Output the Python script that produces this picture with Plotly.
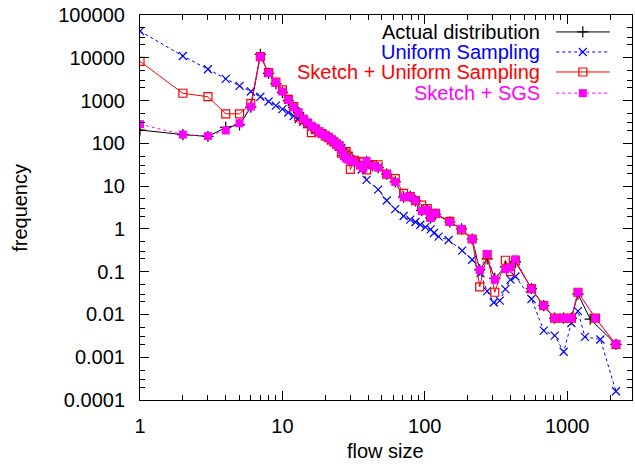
import plotly.graph_objects as go

# ---------------- data ----------------
x_main = [1, 2, 3, 4, 5, 6, 7, 8, 9, 10, 11, 12, 13, 14, 15, 16, 17, 18, 19, 20,
          21, 22, 23, 24, 25, 26, 27, 28, 29, 30, 32, 35, 37, 39, 43, 47,
          54, 62, 71, 79, 86, 95, 104, 110, 119, 150, 181, 215,
          243, 274, 310, 368, 400, 433, 561, 684, 817, 944, 1070, 1190, 1580, 2200]

x_actual = [1, 2, 3, 4, 5, 6, 7, 8, 9, 10, 11, 12, 13, 14, 15, 16, 17, 18, 19, 20,
            21, 22, 23, 24, 25, 26, 27, 28, 29, 30, 32, 35, 37, 39, 43, 47,
            54, 62, 71, 79, 86, 95, 104, 110, 119, 150, 181, 215,
            243, 274, 310, 368, 400, 433, 561, 684, 817, 944, 1070, 1190, 1450, 2200]

actual = [205, 160, 145, 235, 270, 700, 12000, 4300, 2500, 1550,
          1000, 680, 520, 370, 300, 250, 220, 185, 160, 148,
          135, 122, 110, 96, 86, 70, 52, 46, 43, 40,
          37, 31, 27, 38, 30, 27,
          19, 12.5, 5.5, 5.8, 4.5, 2.7,
          2.8, 1.8, 2.2, 1.45, 1.0, 0.58,
          0.11, 0.2, 0.07, 0.13, 0.13, 0.17,
          0.04, 0.016, 0.0082, 0.0082, 0.0082, 0.03, 0.0078, 0.002]

sketch_uniform = [8200, 1480, 1230, 490, 490, 850, 10600, 4500, 2700, 1780,
                  1070, 720, 420, 360, 290, 178, 210, 185, 170, 150,
                  138, 120, 108, 96, 85, 59, 62, 64, 50, 24.5,
                  40, 37, 37, 24, 32, 31.6,
                  19, 15, 6.8, 5.7, 4.6, 3.6,
                  3.0, 1.9, 2.3, 1.5, 0.95, 0.58,
                  0.044, 0.25, 0.033, 0.185, 0.1, 0.18,
                  0.04, 0.016, 0.0082, 0.0082, 0.0082, 0.033, 0.0082, 0.002]

sketch_sgs = [280, 160, 148, 200, 295, 720, 10600, 4400, 2650, 1620,
              1030, 700, 535, 380, 310, 260, 230, 190, 165, 150,
              140, 125, 112, 95, 87, 70, 50, 44, 42, 40,
              37, 30, 26, 39, 30, 27,
              19, 12.5, 5.5, 5.7, 4.6, 2.6,
              2.8, 1.8, 2.3, 1.45, 1.0, 0.58,
              0.11, 0.26, 0.065, 0.115, 0.127, 0.195,
              0.04, 0.016, 0.0082, 0.0082, 0.0082, 0.033, 0.0082, 0.002]

x_uniform = [1, 2, 3, 4, 5, 6, 7, 8, 9, 10, 11, 12, 13, 14, 15, 16, 17, 18, 19, 20,
             21, 22, 23, 24, 25, 26, 27, 28, 29, 30, 32, 36, 39, 47, 54, 62, 71, 79,
             86, 93, 101, 110, 116, 125, 147, 183, 215, 246, 274, 305, 336, 368,
             400, 433, 561, 684, 817, 944, 1070, 1190, 1330, 1710, 2200]

uniform = [42000, 11000, 5400, 3200, 2200, 1630, 1230, 950, 760, 630,
           525, 435, 370, 320, 280, 240, 210, 185, 165, 148,
           132, 118, 108, 98, 90, 78, 66, 57, 50, 44,
           37, 24.5, 14, 8.3, 4.6, 2.9, 2.0, 1.65,
           1.45, 1.25, 1.1, 0.97, 0.8, 0.66, 0.55, 0.31, 0.19, 0.093, 0.035, 0.019, 0.021, 0.039,
           0.065, 0.077, 0.023, 0.0042, 0.0032, 0.00134, 0.0063, 0.012, 0.003, 0.0026, 0.00016]

y_tickvals = [1e-4, 1e-3, 1e-2, 1e-1, 1, 10, 100, 1000, 10000, 100000]
y_ticktext = ["0.0001", "0.001", "0.01", "0.1", "1", "10", "100", "1000", "10000", "100000"]
x_tickvals = [1, 10, 100, 1000]
x_ticktext = ["1", "10", "100", "1000"]

series_names = ["Actual distribution", "Uniform Sampling",
                "Sketch + Uniform Sampling", "Sketch + SGS"]
x_title = "flow size"
y_title = "frequency"

# ---------------- styles ----------------
FONT = "Liberation Sans, Arial, Helvetica, sans-serif"
styles = [
    dict(color="#000000", dash="solid", symbol="cross-thin", msize=8),
    dict(color="#0000ff", dash="dot", symbol="x-thin", msize=8),
    dict(color="#ff0000", dash="solid", symbol="square-open", msize=8),
    dict(color="#ff00ff", dash="dot", symbol="square", msize=8),
]

def marker_for(s):
    if s["symbol"] in ("cross-thin", "x-thin"):
        return dict(symbol=s["symbol"], size=s["msize"], color=s["color"],
                    line=dict(color=s["color"], width=1.2))
    if s["symbol"] == "square-open":
        return dict(symbol="square-open", size=s["msize"], color=s["color"],
                    line=dict(color=s["color"], width=1.2))
    return dict(symbol="square", size=s["msize"], color=s["color"], line=dict(width=0))

fig = go.Figure()
data_sets = [(x_actual, actual), (x_uniform, uniform),
             (x_main, sketch_uniform), (x_main, sketch_sgs)]
for (xs, ys), name, s in zip(data_sets, series_names, styles):
    fig.add_trace(go.Scatter(
        x=xs, y=ys, mode="lines+markers", name=name,
        line=dict(color=s["color"], width=1, dash=s["dash"]),
        marker=marker_for(s), showlegend=False, xaxis="x", yaxis="y"))

# ---------------- custom legend (gnuplot style: text left, sample right) ----
leg_rows = [0.956, 0.904, 0.852, 0.797]
for name, s, ry in zip(series_names, styles, leg_rows):
    fig.add_trace(go.Scatter(
        x=[0.846, 0.955], y=[ry, ry], mode="lines",
        line=dict(color=s["color"], width=1, dash=s["dash"]),
        showlegend=False, hoverinfo="skip", xaxis="x2", yaxis="y2"))
    fig.add_trace(go.Scatter(
        x=[0.900], y=[ry], mode="markers", marker=marker_for(s),
        showlegend=False, hoverinfo="skip", xaxis="x2", yaxis="y2"))
    fig.add_annotation(x=0.817, y=ry, xref="paper", yref="paper",
                       text=name, showarrow=False, xanchor="right", yanchor="middle",
                       font=dict(family=FONT, size=20, color=s["color"]))

# axis titles
fig.add_annotation(x=0.498, y=-0.1325, xref="paper", yref="paper", text=x_title,
                   showarrow=False, xanchor="center", yanchor="middle",
                   font=dict(family=FONT, size=20, color="black"))
fig.add_annotation(x=-0.244, y=0.499, xref="paper", yref="paper", text=y_title,
                   showarrow=False, xanchor="center", yanchor="middle", textangle=-90,
                   font=dict(family=FONT, size=20, color="black"))

axis_common = dict(
    showline=True, linecolor="black", linewidth=1, mirror="ticks",
    ticks="inside", ticklen=9, tickwidth=1, tickcolor="black",
    showgrid=False, zeroline=False, automargin=False,
    tickfont=dict(family=FONT, size=20, color="black"),
)

fig.update_layout(
    width=635, height=464,
    margin=dict(l=140, r=3, t=15, b=64),
    paper_bgcolor="white", plot_bgcolor="white",
    xaxis=dict(type="log", range=[0, 3.455], tickvals=x_tickvals, ticktext=x_ticktext,
               ticklabelstandoff=8,
               minor=dict(ticks="inside", ticklen=5, tickcolor="black", dtick="D1", showgrid=False),
               **axis_common),
    yaxis=dict(type="log", range=[-4, 5], tickvals=y_tickvals, ticktext=y_ticktext,
               ticklabelstandoff=10,
               minor=dict(ticks="inside", ticklen=5, tickcolor="black",
                          tickvals=[m * 10 ** e for e in range(-4, 5) for m in (2, 3, 5)],
                          showgrid=False),
               **axis_common),
    xaxis2=dict(domain=[0, 1], anchor="y2", range=[0, 1], visible=False, overlaying="x"),
    yaxis2=dict(domain=[0, 1], anchor="x2", range=[0, 1], visible=False, overlaying="y"),
    font=dict(family=FONT, size=20, color="black"),
)

fig.write_html("out.html",
               config={"displayModeBar": False},
               post_script="document.body.style.margin='0px';document.body.style.overflow='hidden';")
